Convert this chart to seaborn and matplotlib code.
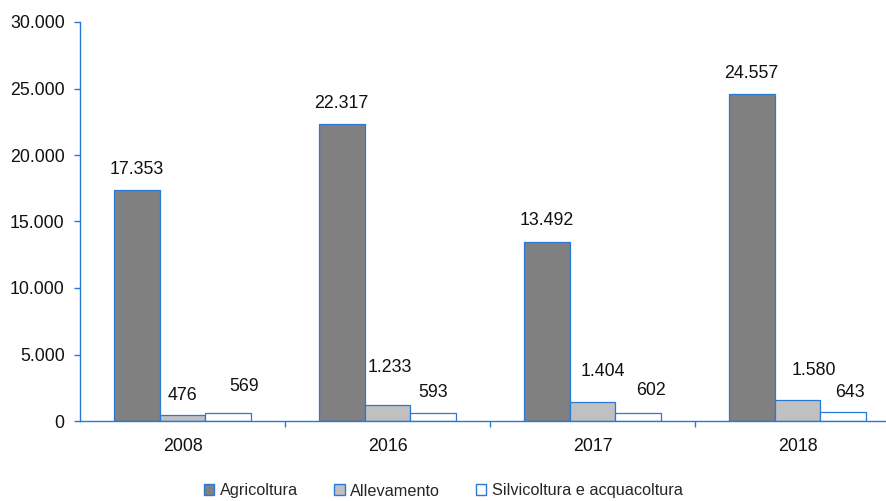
import matplotlib
matplotlib.use("Agg")
import matplotlib.pyplot as plt
import seaborn as sns
import pandas as pd
from matplotlib.patches import Patch
from matplotlib.ticker import FuncFormatter, FixedLocator

# ---- data ----
years = ["2008", "2016", "2017", "2018"]
series = ["Agricoltura", "Allevamento", "Silvicoltura e acquacoltura"]
agricoltura = [17353, 22317, 13492, 24557]
allevamento = [476, 1233, 1404, 1580]
silvicoltura = [569, 593, 602, 643]
y_ticks = [0, 5000, 10000, 15000, 20000, 25000, 30000]

# ---- styling ----
colors = ["#808080", "#c0c0c0", "#ffffff"]
blue = "#2a78d6"
# per-label pixel offsets (dx, dy) of the value labels, series by series
label_offsets = [
    [(0, 21), (0, 21), (0, 21), (0, 21)],
    [(0, 19), (2, 37), (10, 31), (16, 29)],
    [(16, 27), (0, 21), (13, 22), (6, 20)],
]

values = [agricoltura, allevamento, silvicoltura]
df = pd.DataFrame({
    "anno": [y for s in series for y in years],
    "serie": [s for s in series for _ in years],
    "valore": [v for vals in values for v in vals],
})

sns.set_theme(style="white")
plt.rcParams["font.family"] = ["Liberation Sans", "DejaVu Sans"]

fig = plt.figure(figsize=(8.87, 5.01), dpi=100)
ax = fig.add_axes([80 / 887, (501 - 421) / 501, 820 / 887, (421 - 22) / 501])

sns.barplot(data=df, x="anno", y="valore", hue="serie", order=years,
            hue_order=series, palette=colors, width=0.673, saturation=1,
            edgecolor=blue, linewidth=0.9, ax=ax, legend=False)

ax.set_xlim(-0.5, 3.5)
ax.set_ylim(0, 30000)
ax.set_xlabel("")
ax.set_ylabel("")

fmt = lambda v: f"{int(v):,}".replace(",", ".")
ax.yaxis.set_major_locator(FixedLocator(y_ticks))
ax.yaxis.set_major_formatter(FuncFormatter(lambda v, p: fmt(v)))

for sp in ["top", "right"]:
    ax.spines[sp].set_visible(False)
for sp in ["left", "bottom"]:
    ax.spines[sp].set_color(blue)
    ax.spines[sp].set_linewidth(1.0)

fs = 12.8
ax.tick_params(axis="y", which="major", direction="out", length=4, width=1,
               color=blue, labelsize=fs, pad=7, labelcolor="#111111", left=True)
ax.xaxis.set_minor_locator(FixedLocator([0.5, 1.5, 2.5]))
ax.tick_params(axis="x", which="major", length=0, labelsize=fs, pad=12.5,
               labelcolor="#111111", bottom=True)
ax.tick_params(axis="x", which="minor", direction="out", length=4, width=1,
               color=blue, bottom=True)

for ci, cont in enumerate(ax.containers):
    for bi, bar in enumerate(cont):
        v = values[ci][bi]
        dx, dy = label_offsets[ci][bi]
        ax.annotate(fmt(v), (bar.get_x() + bar.get_width() / 2, bar.get_height()),
                    xytext=(dx * 0.72, dy * 0.72), textcoords="offset points",
                    ha="center", va="center", fontsize=fs, color="#111111")

handles = [Patch(facecolor=c, edgecolor=blue, linewidth=1.0) for c in colors]
fig.legend(handles, series, loc="center", bbox_to_anchor=(0.5, 1 - 491 / 501),
           bbox_transform=fig.transFigure, ncol=3, frameon=False, fontsize=11.7,
           handlelength=0.65, handleheight=0.65, handletextpad=0.35,
           columnspacing=2.2)

fig.savefig("out.png", dpi=100)
